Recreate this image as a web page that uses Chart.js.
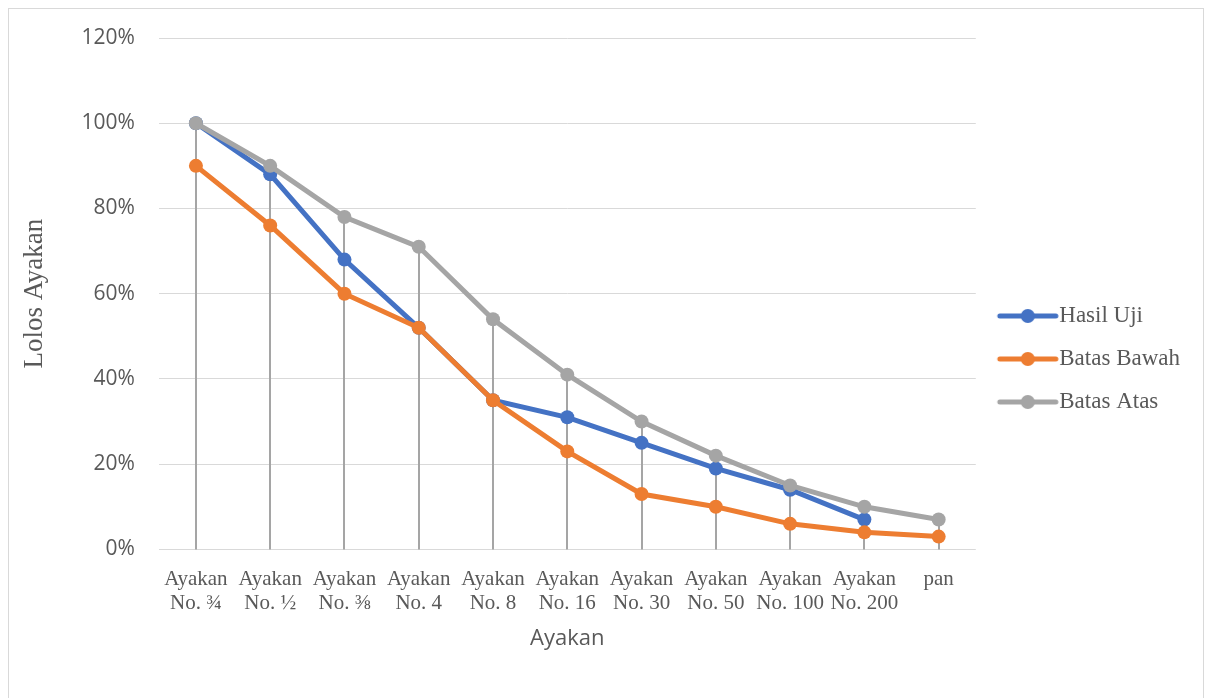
<!DOCTYPE html>
<html>
<head>
<meta charset="utf-8">
<script src="https://cdn.jsdelivr.net/npm/chart.js@4.4.1/dist/chart.umd.min.js"></script>
<style>
  html, body { margin: 0; padding: 0; background: #fff; }
  #wrap {
    position: absolute; left: 8px; top: 8px; width: 1196px; height: 700px;
    border: 1px solid #d9d9d9; box-sizing: border-box;
  }
  #wrap canvas { display: block; }
</style>
</head>
<body>
<div id="wrap"><canvas id="gradasiChart"></canvas></div>
<script>
// saringan (ayakan)
const categories = [
  ['Ayakan', 'No. ¾'], ['Ayakan', 'No. ½'], ['Ayakan', 'No. ⅜'], ['Ayakan', 'No. 4'],
  ['Ayakan', 'No. 8'], ['Ayakan', 'No. 16'], ['Ayakan', 'No. 30'], ['Ayakan', 'No. 50'],
  ['Ayakan', 'No. 100'], ['Ayakan', 'No. 200'], 'pan'
];
// persen lolos
const hasilUji = [100, 88, 68, 52, 35, 31, 25, 19, 14, 7, null];
const batasBawah = [90, 76, 60, 52, 35, 23, 13, 10, 6, 4, 3];
const batasAtas = [100, 90, 78, 71, 54, 41, 30, 22, 15, 10, 7];
const yTicks = [0, 20, 40, 60, 80, 100, 120];

const grey = '#595959';

// legend marker: line with a dot in the middle (drawn a bit to the right so text sits at its end)
function legendIcon(color) {
  const c = document.createElement('canvas');
  c.width = 76; c.height = 16;
  const g = c.getContext('2d');
  g.strokeStyle = color;
  g.lineWidth = 5;
  g.lineCap = 'round';
  g.beginPath(); g.moveTo(16, 8); g.lineTo(72, 8); g.stroke();
  g.fillStyle = color;
  g.beginPath(); g.arc(44, 8, 7, 0, Math.PI * 2); g.fill();
  return c;
}

// vertical drop lines from highest point down to the axis
const dropLines = {
  id: 'dropLines',
  beforeDatasetsDraw(chart) {
    const { ctx, scales: { x, y } } = chart;
    ctx.save();
    ctx.strokeStyle = '#a5a5a5';
    ctx.lineWidth = 2;
    categories.forEach((_, i) => {
      const vals = chart.data.datasets.map(d => d.data[i]).filter(v => v != null);
      const top = Math.max(...vals);
      const px = Math.round(x.getPixelForValue(i));
      ctx.beginPath();
      ctx.moveTo(px, y.getPixelForValue(top));
      ctx.lineTo(px, y.getPixelForValue(0));
      ctx.stroke();
    });
    ctx.restore();
  }
};

const series = [
  { label: 'Hasil Uji', data: hasilUji, color: '#4472c4', order: 2 },
  { label: 'Batas Bawah', data: batasBawah, color: '#ed7d31', order: 1 },
  { label: 'Batas Atas', data: batasAtas, color: '#a5a5a5', order: 0 }
];

new Chart(document.getElementById('gradasiChart'), {
  type: 'line',
  data: {
    labels: categories,
    datasets: series.map(s => ({
      label: s.label,
      data: s.data,
      order: s.order,
      borderColor: s.color,
      backgroundColor: s.color,
      borderWidth: 5,
      pointRadius: 7,
      pointBorderWidth: 0,
      pointBackgroundColor: s.color,
      tension: 0,
      spanGaps: false
    }))
  },
  options: {
    responsive: true,
    maintainAspectRatio: false,
    animation: false,
    layout: { padding: { top: 29, bottom: 27, left: 10, right: 13 } },
    plugins: {
      tooltip: { enabled: false },
      legend: {
        position: 'right',
        labels: {
          usePointStyle: true,
          pointStyleWidth: 52,
          padding: 20,
          color: grey,
          font: { family: 'Liberation Serif', size: 23 },
          generateLabels: (chart) => series.map((s, i) => ({
            text: s.label,
            pointStyle: legendIcon(s.color),
            fillStyle: s.color,
            strokeStyle: s.color,
            lineWidth: 0,
            fontColor: grey,
            datasetIndex: i,
            hidden: false
          }))
        }
      }
    },
    scales: {
      x: {
        offset: true,
        grid: { display: false },
        border: { display: false },
        ticks: {
          color: grey,
          autoSkip: false,
          maxRotation: 0,
          padding: 11,
          font: { family: 'Liberation Serif', size: 21, lineHeight: 1.1 }
        },
        title: {
          display: true,
          text: 'Ayakan',
          color: grey,
          padding: { top: 0, bottom: 28 },
          font: { family: 'Open Sans', size: 22 }
        }
      },
      y: {
        min: 0,
        max: 120,
        afterBuildTicks: (axis) => { axis.ticks = yTicks.map(v => ({ value: v })); },
        afterFit: (axis) => { axis.paddingTop = 0; },
        grid: { color: '#d9d9d9', lineWidth: 1, drawTicks: false },
        border: { display: false },
        ticks: {
          color: grey,
          padding: 24,
          font: { family: 'Open Sans', size: 21 },
          callback: (v) => v + '%'
        },
        title: {
          display: true,
          text: 'Lolos Ayakan',
          color: grey,
          padding: { top: 0, bottom: 6 },
          font: { family: 'Liberation Serif', size: 27 }
        }
      }
    }
  },
  plugins: [dropLines]
});
</script>
</body>
</html>
